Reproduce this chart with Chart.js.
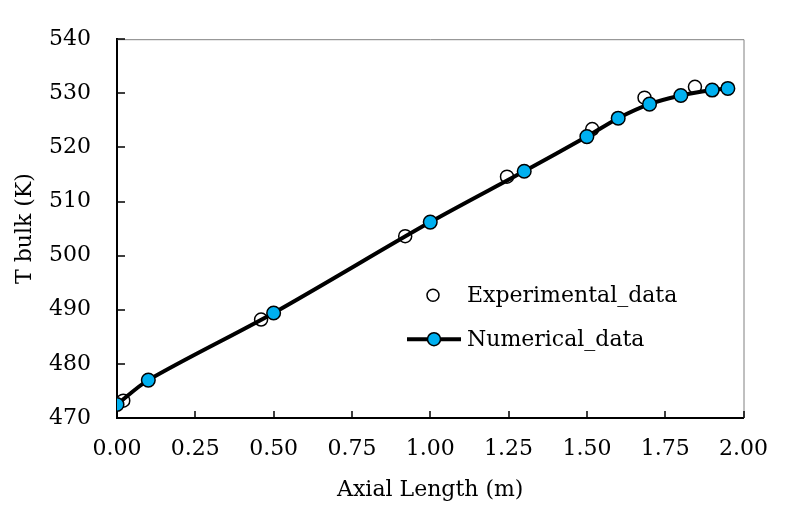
<!DOCTYPE html>
<html>
<head>
<meta charset="utf-8">
<script src="https://cdn.jsdelivr.net/npm/chart.js@4"></script>
<style>
  html, body { margin: 0; padding: 0; background: #fff; }
  canvas { display: block; }
</style>
</head>
<body>
<canvas id="tbulk" width="786" height="510"></canvas>
<script>
  // measured bulk temperature along the channel
  const expLength = [0.02, 0.46, 0.92, 1.245, 1.517, 1.684, 1.845];
  const expTemp = [473.2, 488.2, 503.6, 514.6, 523.4, 529.2, 531.2];

  // simulated profile
  const numLength = [0, 0.1, 0.5, 1.0, 1.3, 1.5, 1.6, 1.7, 1.8, 1.9, 1.95];
  const numTemp = [472.5, 477.0, 489.4, 506.2, 515.6, 522.0, 525.4, 528.0, 529.6, 530.6, 530.9];

  const seriesNames = ["Experimental_data", "Numerical_data"];

  const FONT = "'DejaVu Serif', serif";
  const BLUE = "#00b0f0";

  const toPoints = (xs, ys) => xs.map((x, i) => ({ x: x, y: ys[i] }));

  // inward tick marks, grey frame on top/right, and the legend box
  const framePlugin = {
    id: "frame",
    afterDraw(chart) {
      const ctx = chart.ctx;
      const a = chart.chartArea;
      const xs = chart.scales.x, ys = chart.scales.y;
      ctx.save();
      ctx.strokeStyle = "#808080";
      ctx.lineWidth = 1;
      ctx.beginPath();
      ctx.moveTo(a.left, a.top + 0.5);
      ctx.lineTo(a.right + 0.5, a.top + 0.5);
      ctx.lineTo(a.right + 0.5, a.bottom);
      ctx.stroke();

      ctx.strokeStyle = "#000";
      ctx.lineWidth = 1.5;
      ctx.beginPath();
      xs.ticks.forEach((t, i) => {
        const px = Math.round(xs.getPixelForTick(i));
        ctx.moveTo(px, a.bottom);
        ctx.lineTo(px, a.bottom - 7);
      });
      ys.ticks.forEach((t, i) => {
        const py = Math.round(ys.getPixelForTick(i));
        ctx.moveTo(a.left, py);
        ctx.lineTo(a.left + 8, py);
      });
      ctx.stroke();

      // legend
      const lx = a.left + 316, ly = a.top + 256;
      ctx.font = "22px " + FONT;
      ctx.fillStyle = "#000";
      ctx.textBaseline = "middle";
      ctx.textAlign = "left";

      ctx.beginPath();
      ctx.arc(lx, ly, 6, 0, Math.PI * 2);
      ctx.fillStyle = "#fff";
      ctx.fill();
      ctx.lineWidth = 1.5;
      ctx.strokeStyle = "#000";
      ctx.stroke();
      ctx.fillStyle = "#000";
      ctx.fillText(seriesNames[0], lx + 34, ly + 1);

      const ny = ly + 44;
      ctx.beginPath();
      ctx.lineWidth = 4;
      ctx.moveTo(lx - 26, ny);
      ctx.lineTo(lx + 28, ny);
      ctx.stroke();
      ctx.beginPath();
      ctx.arc(lx + 1, ny, 6.5, 0, Math.PI * 2);
      ctx.fillStyle = BLUE;
      ctx.fill();
      ctx.lineWidth = 1.5;
      ctx.stroke();
      ctx.fillStyle = "#000";
      ctx.fillText(seriesNames[1], lx + 34, ny + 1);
      ctx.restore();
    }
  };

  new Chart(document.getElementById("tbulk"), {
    type: "scatter",
    data: {
      datasets: [
        {
          label: seriesNames[0],
          data: toPoints(expLength, expTemp),
          showLine: false,
          pointRadius: 6.5,
          pointBackgroundColor: "#fff",
          pointBorderColor: "#000",
          pointBorderWidth: 1.5,
          order: 2
        },
        {
          label: seriesNames[1],
          data: toPoints(numLength, numTemp),
          showLine: true,
          borderColor: "#000",
          borderWidth: 4,
          tension: 0.3,
          pointRadius: 6.8,
          pointBackgroundColor: BLUE,
          pointBorderColor: "#000",
          pointBorderWidth: 1.5,
          order: 1
        }
      ]
    },
    options: {
      responsive: false,
      devicePixelRatio: 1,
      animation: false,
      layout: { padding: { top: 19, right: 28, bottom: 0, left: 0 } },
      plugins: {
        legend: { display: false },
        tooltip: { enabled: false }
      },
      scales: {
        x: {
          type: "linear",
          min: 0,
          max: 2,
          afterFit: s => { s.height = 92; },
          grid: { display: false, drawTicks: false },
          border: { display: true, color: "#000", width: 2 },
          ticks: {
            stepSize: 0.25,
            padding: 18,
            color: "#000",
            font: { family: FONT, size: 22 },
            callback: v => v.toFixed(2)
          },
          title: {
            display: true,
            text: "Axial Length (m)",
            color: "#000",
            font: { family: FONT, size: 22 },
            padding: 7
          }
        },
        y: {
          min: 470,
          max: 540,
          afterFit: s => { s.width = 117; },
          grid: { display: false, drawTicks: false },
          border: { display: true, color: "#000", width: 2 },
          ticks: {
            stepSize: 10,
            padding: 26,
            color: "#000",
            font: { family: FONT, size: 22 }
          },
          title: {
            display: true,
            text: "T bulk (K)",
            color: "#000",
            font: { family: FONT, size: 22 },
            padding: 12
          }
        }
      }
    },
    plugins: [framePlugin]
  });
</script>
</body>
</html>
